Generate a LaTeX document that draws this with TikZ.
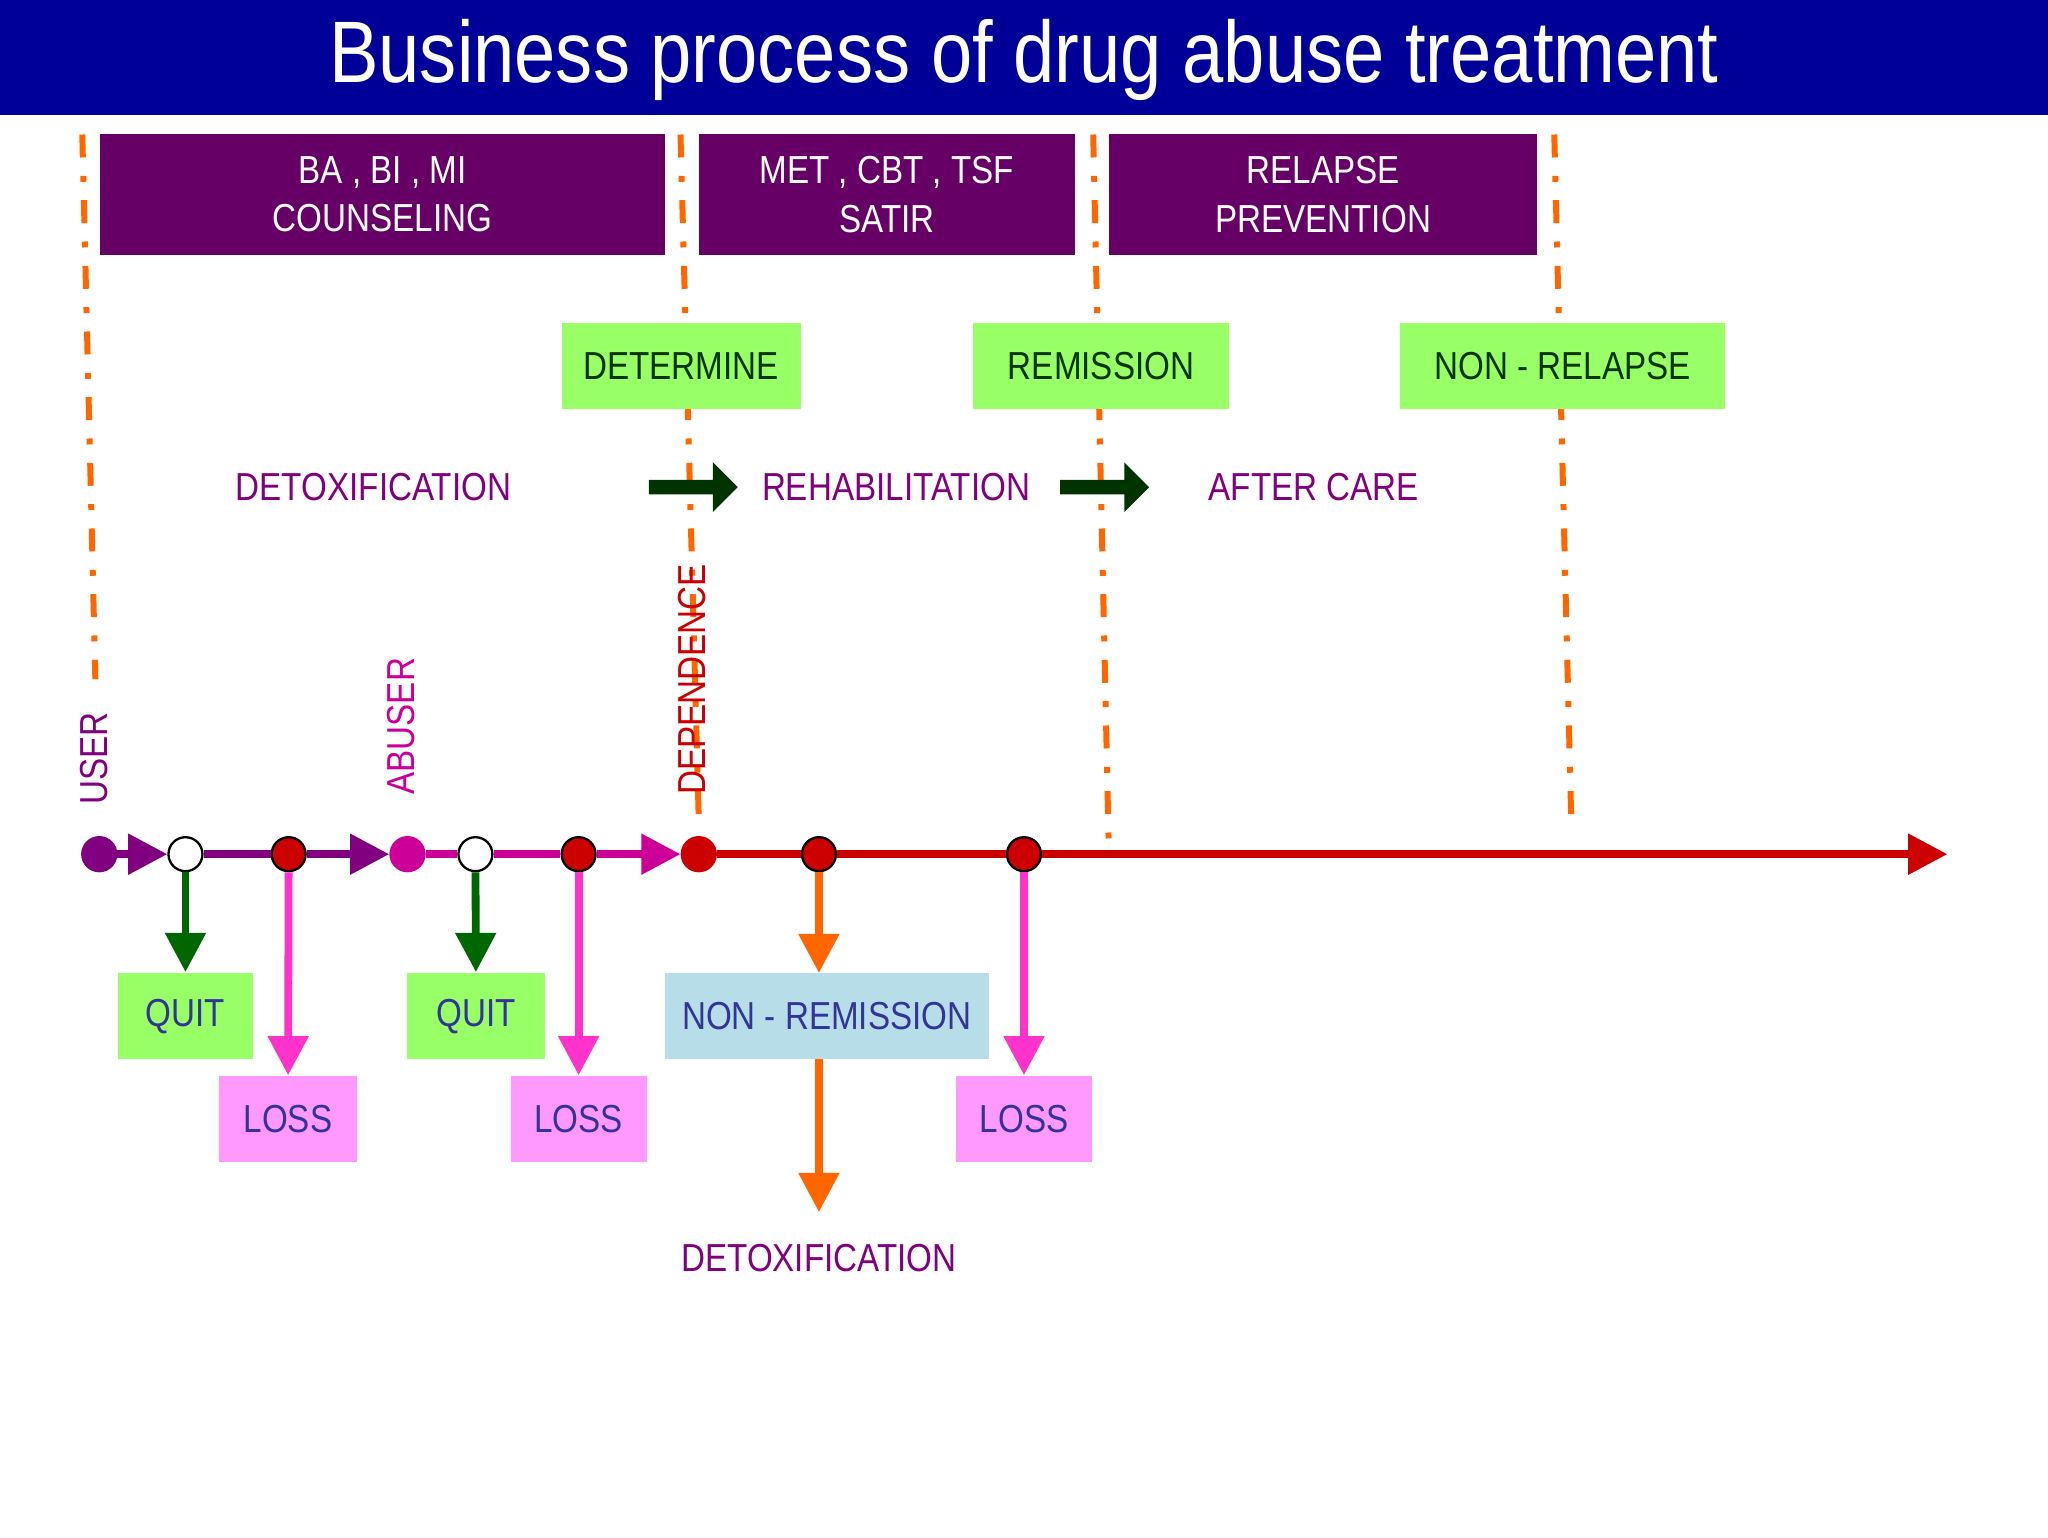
\documentclass[tikz,border=0pt]{standalone}
\usepackage{fontspec}
\setmainfont{Liberation Sans}[FakeStretch=0.85]
\usetikzlibrary{arrows.meta,shapes.arrows}
\definecolor{navy}{HTML}{000099}
\definecolor{plum}{HTML}{660066}
\definecolor{lgreen}{HTML}{99FF66}
\definecolor{dgreen}{HTML}{003300}
\definecolor{qgreen}{HTML}{006600}
\definecolor{dorange}{HTML}{FF6600}
\definecolor{lpurple}{HTML}{800080}
\definecolor{magen}{HTML}{CC0099}
\definecolor{dred}{HTML}{CC0000}
\definecolor{pinkarr}{HTML}{FF33CC}
\definecolor{lpink}{HTML}{FF99FF}
\definecolor{lblue}{HTML}{B7DEE8}
\definecolor{dblue}{HTML}{333399}
\tikzset{
 x=0.01cm,y=-0.01cm,
 hdr/.style={fill=plum,text=white,font=\fontsize{8.5}{10.5}\selectfont,align=center,inner sep=0},
 gbox/.style={fill=lgreen,text=dgreen,font=\fontsize{8.5}{10}\selectfont,inner sep=0},
 qbox/.style={fill=lgreen,text=dblue,font=\fontsize{8.5}{10}\selectfont,inner sep=0},
 lbox/.style={fill=lpink,text=dblue,font=\fontsize{8.5}{10}\selectfont,inner sep=0},
 phase/.style={text=lpurple,font=\fontsize{8.5}{10}\selectfont},
 vlab/.style={rotate=90,font=\fontsize{8.5}{10}\selectfont,anchor=west,inner sep=0},
 sep/.style={dorange,line width=1.3pt,dash pattern=on 5pt off 4pt on 1.3pt off 4pt},
 tl/.style={line width=1.7pt,-{Triangle[length=0.3cm,width=0.3cm]}},
 dn/.style={line width=1.7pt,-{Triangle[length=0.3cm,width=0.3cm]}},
 dot/.style={circle,draw=black,line width=0.5pt,minimum size=0.26cm,inner sep=0},
 blk/.style={single arrow,fill=dgreen,minimum height=0.68cm,minimum width=0.38cm,single arrow head extend=0.06cm,inner sep=0.5pt,shape border rotate=0}
}
\begin{document}
\begin{tikzpicture}
\useasboundingbox (0,0) rectangle (1568,1177);
\fill[white] (0,0) rectangle (1568,1177);
\fill[navy] (0,0) rectangle (1568,88);
\node[text=white,font=\fontsize{19}{22}\selectfont] (title) at (784,46) {Business process of drug abuse treatment};
% separators
\coordinate (s1a) at (63,103); \coordinate (s1b) at (73,520);
\coordinate (s2a) at (521,103); \coordinate (s2b) at (535,628);
\coordinate (s3a) at (837,103); \coordinate (s3b) at (849,653);
\coordinate (s4a) at (1190,103); \coordinate (s4b) at (1203,628);
\draw[sep] (s1a)--(s1b); \draw[sep] (s2a)--(s2b); \draw[sep] (s3a)--(s3b); \draw[sep] (s4a)--(s4b);
% header boxes
\node[hdr,minimum width=4.32cm,minimum height=0.92cm] (h1) at (293,149) {BA , BI , MI\\COUNSELING};
\node[hdr,minimum width=2.88cm,minimum height=0.92cm] (h2) at (679,149) {MET , CBT , TSF\\SATIR};
\node[hdr,minimum width=3.28cm,minimum height=0.92cm] (h3) at (1013,149) {RELAPSE\\PREVENTION};
\node[gbox,minimum width=1.83cm,minimum height=0.66cm] (g1) at (521.5,280) {DETERMINE};
\node[gbox,minimum width=1.96cm,minimum height=0.66cm] (g2) at (843,280) {REMISSION};
\node[gbox,minimum width=2.49cm,minimum height=0.66cm] (g3) at (1196.5,280) {NON - RELAPSE};
% phases
\node[phase] (p1) at (286,373) {DETOXIFICATION};
\node[phase] (p2) at (686,373) {REHABILITATION};
\node[phase] (p3) at (1006,373) {AFTER CARE};
\node[blk] (b1) at (528,373) {};
\node[blk] (b2) at (843,373) {};
% vertical labels
\node[vlab,text=lpurple] (vu) at (72,617) {USER};
\node[vlab,text=magen] (va) at (307,609) {ABUSER};
\node[vlab,text=dred] (vd) at (530,609) {DEPENDENCE};
% timeline dots
\node[dot,fill=lpurple,draw=lpurple] (d1) at (76,654) {};
\node[dot,fill=white] (d2) at (142,654) {};
\node[dot,fill=dred] (d3) at (221,654) {};
\node[dot,fill=magen,draw=magen] (d4) at (312,654) {};
\node[dot,fill=white] (d5) at (364,654) {};
\node[dot,fill=dred] (d6) at (443,654) {};
\node[dot,fill=dred,draw=dred] (d7) at (535,654) {};
\node[dot,fill=dred] (d8) at (627,654) {};
\node[dot,fill=dred] (d9) at (784,654) {};
\coordinate (e1) at (298,654); \coordinate (e2) at (521,654); \coordinate (e3) at (1491,654);
\draw[tl,lpurple] (d1)--(d2); \draw[lpurple,line width=1.7pt] (d2)--(d3); \draw[tl,lpurple] (d3)--(e1);
\draw[magen,line width=1.7pt] (d4)--(d5)--(d6); \draw[tl,magen] (d6)--(e2);
\draw[dred,line width=1.7pt] (d7)--(d8)--(d9); \draw[tl,dred] (d9)--(e3);
% bottom boxes
\node[qbox,minimum width=1.04cm,minimum height=0.66cm] (q1) at (142,778) {QUIT};
\node[qbox,minimum width=1.05cm,minimum height=0.66cm] (q2) at (364.5,778) {QUIT};
\node[lbox,minimum width=1.05cm,minimum height=0.66cm] (l1) at (220.5,857) {LOSS};
\node[lbox,minimum width=1.04cm,minimum height=0.66cm] (l2) at (443,857) {LOSS};
\node[lbox,minimum width=1.04cm,minimum height=0.66cm] (l3) at (784,857) {LOSS};
\node[fill=lblue,text=dblue,font=\fontsize{8.5}{10}\selectfont,inner sep=0,minimum width=2.48cm,minimum height=0.66cm] (nr) at (633,778) {NON - REMISSION};
\node[phase] (dx) at (627,963) {DETOXIFICATION};
\coordinate (nrt) at (627,745); \coordinate (nrb) at (627,811); \coordinate (dxt) at (627,928);
\draw[dn,qgreen] (d2)--(q1); \draw[dn,qgreen] (d5)--(q2);
\draw[dn,pinkarr] (d3)--(l1); \draw[dn,pinkarr] (d6)--(l2); \draw[dn,pinkarr] (d9)--(l3);
\draw[dn,dorange] (d8)--(nrt); \draw[dn,dorange] (nrb)--(dxt);
\end{tikzpicture}
\end{document}
